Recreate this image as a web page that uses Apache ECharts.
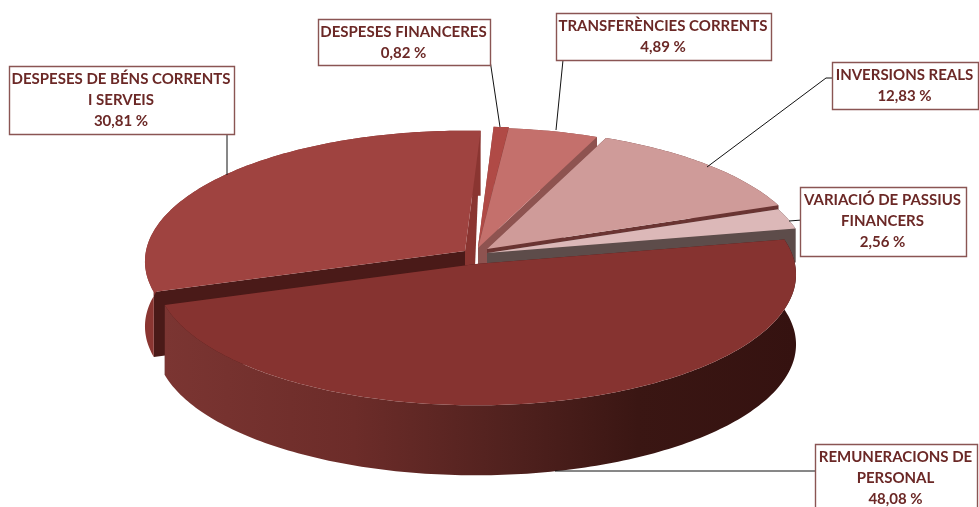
<!DOCTYPE html>
<html>
<head>
<meta charset="utf-8">
<style>
  html, body { margin: 0; padding: 0; background: #fff; }
  #chart-wrapper { width: 979px; height: 507px; }
</style>
<script src="https://cdn.jsdelivr.net/npm/echarts@6/dist/echarts.min.js"></script>
</head>
<body>
<div id="chart-wrapper"></div>
<script>
// clockwise, starting at the big slice
const categories = [
  "REMUNERACIONS DE\nPERSONAL",
  "DESPESES DE BÉNS CORRENTS\nI SERVEIS",
  "DESPESES FINANCERES",
  "TRANSFERÈNCIES CORRENTS",
  "INVERSIONS REALS",
  "VARIACIÓ DE PASSIUS\nFINANCERS",
];
const values = [48.08, 30.81, 0.82, 4.89, 12.83, 2.56];

// slices styles, same order as categories
const topColors = ["#863330", "#9f4340", "#b04a46", "#c4706c", "#cf9b99", "#dcb8b8"];
const rimColors = ["#7a3431", "#8a3531", "#8f3a36", "#8e5350", "#6a3432", "#5d4c4a"];
const edgeColors = ["#4a1a18", "#4a1a18", "#8e4a46", "#8e5350", "#6a3432", "#5d4c4a"];
const explode = [[1, 12], [-10, -1], [3, -5], [3, -4], [12, -3], [12, 1]];
const depths = [70, 65, 60, 60, 60, 34];
// back slices first, the two big ones overlap them
const paintOrder = [2, 3, 4, 5, 1, 0];

// label boxes: x, y, w, h and leader line
const labelBoxes = [
  { box: [815, 444, 162, 70], leader: [[555, 471], [815, 471]] },
  { box: [9, 66, 225, 68], leader: [[227, 134], [227, 175]] },
  { box: [318, 19, 172, 46], leader: [[490, 60], [500, 127]] },
  { box: [556, 13, 215, 47], leader: [[563, 60], [556, 130]] },
  { box: [832, 62, 146, 47], leader: [[832, 78], [826, 78], [707, 167]] },
  { box: [800, 187, 166, 69], leader: [[802, 220], [789, 221]] },
];

const cx = 475;
const cy = 252;
const radius = 319;
const ryBase = 130;
const persp = 0.08;
const startAngle = -11;

const total = values.reduce((a, b) => a + b, 0);
let acc = startAngle;
const sliceAngles = values.map((v) => {
  const from = acc;
  acc += (v / total) * 360;
  return [from, acc];
});

const project = (deg, off) => {
  const t = (deg * Math.PI) / 180;
  const s = 1 / (1 - persp * Math.sin(t));
  return [cx + off[0] + s * radius * Math.cos(t), cy + off[1] + s * ryBase * Math.sin(t)];
};

const rimPoints = (from, to, off) => {
  const pts = [];
  const steps = Math.max(2, Math.ceil(to - from));
  for (let i = 0; i <= steps; i++) {
    pts.push(project(from + ((to - from) * i) / steps, off));
  }
  return pts;
};

const down = (p, d) => [p[0], p[1] + d];
const poly = (points, fill) => ({ type: "polygon", shape: { points }, style: { fill, stroke: null } });

const rimFill = (i, rim) => {
  if (i !== 0) return rimColors[i];
  const xs = rim.map((p) => p[0]);
  return {
    type: "linear",
    global: true,
    x: Math.min(...xs),
    y: 0,
    x2: Math.max(...xs),
    y2: 0,
    colorStops: [
      { offset: 0, color: "#7b3532" },
      { offset: 0.3, color: "#6c2c29" },
      { offset: 0.55, color: "#50211e" },
      { offset: 0.75, color: "#3a1613" },
      { offset: 1, color: "#351210" },
    ],
  };
};

const renderSlice = (params, api) => {
  const i = api.value(0);
  const off = explode[i];
  const d = depths[i];
  const [from, to] = sliceAngles[i];
  const apex = [cx + off[0], cy + off[1]];
  const rim = rimPoints(from, to, off);
  const first = rim[0];
  const last = rim[rim.length - 1];
  const children = [];

  // radial walls, whatever is hidden gets covered by the next faces
  children.push(poly([apex, first, down(first, d), down(apex, d)], edgeColors[i]));
  if (i === 1) {
    // the near vertical edge only shows a thin wedge to its right
    children.push(poly([apex, last, [apex[0] + 10, apex[1] + 16], [apex[0], apex[1] + 16]], rimColors[1]));
  } else {
    children.push(poly([apex, last, down(last, d), down(apex, d)], edgeColors[i]));
  }
  // outer wall
  children.push(poly(rim.concat(rim.map((p) => down(p, d)).reverse()), rimFill(i, rim)));
  // top face
  children.push(poly([apex].concat(rim), topColors[i]));
  return { type: "group", children };
};

const renderLabel = (params, api) => {
  const i = api.value(0);
  const b = labelBoxes[i].box;
  const text = categories[i] + "\n" + values[i].toFixed(2).replace(".", ",") + " %";
  return {
    type: "group",
    children: [
      {
        type: "polyline",
        shape: { points: labelBoxes[i].leader },
        style: { stroke: "#111", lineWidth: 1, fill: null },
      },
      {
        type: "rect",
        shape: { x: b[0] + 0.5, y: b[1] + 0.5, width: b[2], height: b[3] },
        style: { fill: "#fff", stroke: "#8a5553", lineWidth: 1.4 },
      },
      {
        type: "text",
        x: b[0] + b[2] / 2 - 0.5,
        y: b[1] + 3,
        style: {
          text,
          fill: "#6b2826",
          font: 'bold 15px Lato, "Open Sans", sans-serif',
          lineHeight: 21,
          align: "center",
          verticalAlign: "top",
        },
      },
    ],
  };
};

const chartDom = document.getElementById("chart-wrapper");
const chart = echarts.init(chartDom, null, { renderer: "canvas" });
const option = {
  backgroundColor: "#fff",
  animation: false,
  series: [
    {
      type: "custom",
      coordinateSystem: "none",
      silent: true,
      renderItem: renderSlice,
      data: paintOrder.map((i) => [i, values[i]]),
      z: 1,
    },
    {
      type: "custom",
      coordinateSystem: "none",
      silent: true,
      renderItem: renderLabel,
      data: categories.map((c, i) => [i, values[i]]),
      z: 2,
    },
  ],
};
chart.setOption(option);
</script>
</body>
</html>
